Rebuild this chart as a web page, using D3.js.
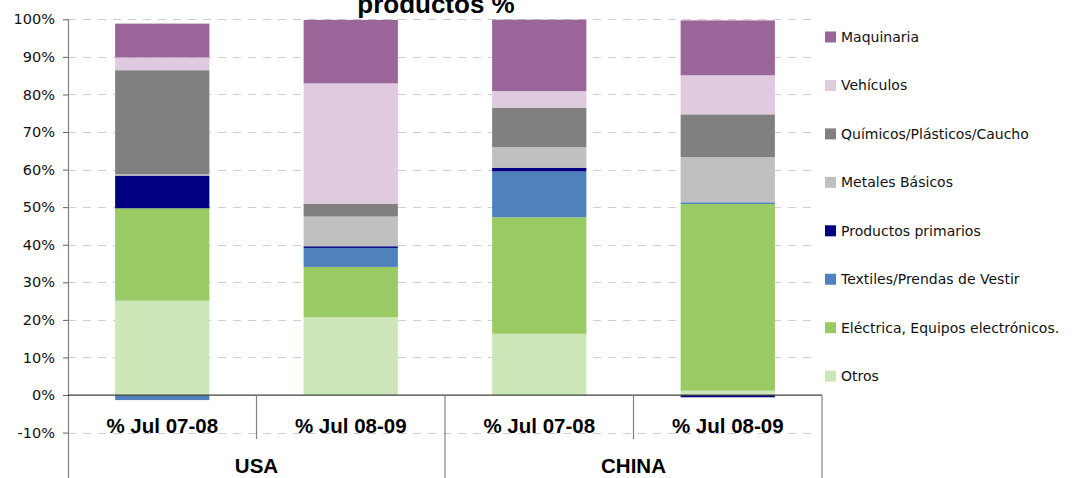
<!DOCTYPE html>
<html>
<head>
<meta charset="utf-8">
<script src="https://cdn.jsdelivr.net/npm/d3@7"></script>
<style>
  html, body { margin: 0; padding: 0; background: #ffffff; }
  svg { display: block; }
</style>
</head>
<body>
<svg id="chart" width="1074" height="478"></svg>
<script>
// Categories: period per bar and the country each bar belongs to
const periods = ["% Jul 07-08", "% Jul 08-09", "% Jul 07-08", "% Jul 08-09"];
const countries = ["USA", "USA", "CHINA", "CHINA"];

// Share of imports by product group (%), one value per bar
const otros      = [25.1, 20.7, 16.3, 1.15];
const electrica  = [24.6, 13.4, 31.0, 49.7];
const textiles   = [-1.35, 5.05, 12.2, 0.45];
const primarios  = [8.7, 0.45, 1.0, -0.6];
const metales    = [0.35, 7.9, 5.5, 12.0];
const quimicos   = [27.7, 3.45, 10.5, 11.4];
const vehiculos  = [3.4, 32.0, 4.4, 10.4];
const maquinaria = [9.0, 16.9, 19.0, 14.6];

// Series in stacking order (bottom to top)
const seriesKeys = ["otros", "electrica", "textiles", "primarios", "metales", "quimicos", "vehiculos", "maquinaria"];
const seriesValues = [otros, electrica, textiles, primarios, metales, quimicos, vehiculos, maquinaria];
const seriesLabels = [
  "Otros",
  "Eléctrica, Equipos electrónicos.",
  "Textiles/Prendas de Vestir",
  "Productos primarios",
  "Metales Básicos",
  "Químicos/Plásticos/Caucho",
  "Vehículos",
  "Maquinaria"
];
const seriesColors = ["#cde6b7", "#99ca64", "#4f81bd", "#000080", "#c0c0c0", "#808080", "#dfcadf", "#9a6598"];

// Value axis ticks (%)
const yTicks = [-10, 0, 10, 20, 30, 40, 50, 60, 70, 80, 90, 100];
const yDomain = [-10, 100];

const titleText = "productos %";

// ---- layout ----
const W = 1074, H = 478;
const plotLeft = 68, plotRight = 822, plotTop = 19.3, plotBottom = 432.6;
const BODY = "'DejaVu Sans', Verdana, sans-serif";
const BOLD = "'Liberation Sans', Arial, sans-serif";

const svg = d3.select("#chart");

const y = d3.scaleLinear().domain(yDomain).range([plotBottom, plotTop]);
const x = d3.scaleBand().domain(d3.range(periods.length)).range([plotLeft, plotRight]).padding(0);
const barW = x.bandwidth() * 0.5;

// Build rows for the stack layout
const rows = periods.map((p, i) => {
  const r = { idx: i };
  seriesKeys.forEach((k, s) => { r[k] = seriesValues[s][i]; });
  return r;
});
const stacked = d3.stack().keys(seriesKeys).offset(d3.stackOffsetDiverging)(rows);

// Gridlines (dashed), skipping the zero line
svg.append("g")
  .selectAll("line")
  .data(yTicks.filter(t => t !== 0))
  .join("line")
  .attr("x1", plotLeft).attr("x2", plotRight - 4)
  .attr("y1", d => Math.round(y(d)) + 0.5).attr("y2", d => Math.round(y(d)) + 0.5)
  .attr("stroke", "#cfcfcf").attr("stroke-width", 1.2)
  .attr("stroke-dasharray", "8,7");

// Stacked bars
svg.append("g")
  .selectAll("g")
  .data(stacked)
  .join("g")
  .attr("fill", (d, i) => seriesColors[i])
  .selectAll("rect")
  .data(d => d)
  .join("rect")
  .attr("x", d => x(d.data.idx) + (x.bandwidth() - barW) / 2)
  .attr("width", barW)
  .attr("y", d => y(Math.max(d[0], d[1])))
  .attr("height", d => Math.abs(y(d[0]) - y(d[1])));

// Value axis
const yAxis = d3.axisLeft(y).tickValues(yTicks).tickFormat(d => d + "%").tickSize(5).tickPadding(8);
const ya = svg.append("g").attr("transform", `translate(${plotLeft},0)`).call(yAxis);
ya.select(".domain").remove();
ya.selectAll(".tick line").attr("stroke", "#606060");
ya.selectAll(".tick text").attr("font-family", BODY).attr("font-size", 14.5).attr("fill", "#111");
svg.append("line")
  .attr("x1", plotLeft + 0.5).attr("x2", plotLeft + 0.5)
  .attr("y1", plotTop).attr("y2", H)
  .attr("stroke", "#808080").attr("stroke-width", 1.2);

// Zero line / category axis
svg.append("line")
  .attr("x1", plotLeft).attr("x2", plotRight)
  .attr("y1", y(0)).attr("y2", y(0))
  .attr("stroke", "#404040").attr("stroke-width", 1.2);

// Category separators: short between periods, full height between countries
const catAxis = svg.append("g");
periods.forEach((p, i) => {
  if (i === 0) return;
  const sameGroup = countries[i] === countries[i - 1];
  catAxis.append("line")
    .attr("x1", x(i)).attr("x2", x(i))
    .attr("y1", y(0)).attr("y2", sameGroup ? 439 : H)
    .attr("stroke", "#808080").attr("stroke-width", 1.2);
});
catAxis.append("line")
  .attr("x1", plotRight).attr("x2", plotRight)
  .attr("y1", y(0)).attr("y2", H)
  .attr("stroke", "#808080").attr("stroke-width", 1.2);

// Period labels
catAxis.selectAll("text.period")
  .data(periods)
  .join("text")
  .attr("class", "period")
  .attr("x", (d, i) => x(i) + x.bandwidth() / 2)
  .attr("y", 433)
  .attr("text-anchor", "middle")
  .attr("font-family", BOLD).attr("font-weight", "bold").attr("font-size", 20.5)
  .attr("fill", "#000")
  .text(d => d);

// Country labels, centred under their bars
const groups = d3.groups(periods.map((p, i) => i), i => countries[i]);
catAxis.selectAll("text.country")
  .data(groups)
  .join("text")
  .attr("class", "country")
  .attr("x", ([, idx]) => (x(idx[0]) + x(idx[idx.length - 1]) + x.bandwidth()) / 2)
  .attr("y", 473)
  .attr("text-anchor", "middle")
  .attr("font-family", BOLD).attr("font-weight", "bold").attr("font-size", 20.5)
  .attr("fill", "#000")
  .text(([name]) => name);

// Title (second line of a wrapped heading, clipped by the top edge)
svg.append("text")
  .attr("x", 436).attr("y", 13)
  .attr("text-anchor", "middle")
  .attr("font-family", BOLD).attr("font-weight", "bold").attr("font-size", 26)
  .attr("fill", "#000")
  .text(titleText);

// Legend, top entry = top of the stack
const legendOrder = d3.range(seriesKeys.length).reverse();
const legend = svg.append("g").attr("transform", "translate(825,37)");
const item = legend.selectAll("g")
  .data(legendOrder)
  .join("g")
  .attr("transform", (d, i) => `translate(0,${i * 48.45})`);
item.append("rect")
  .attr("x", 0).attr("y", -5.5).attr("width", 11).attr("height", 11)
  .attr("fill", d => seriesColors[d]);
item.append("text")
  .attr("x", 16).attr("y", 0).attr("dy", "0.35em")
  .attr("font-family", BODY).attr("font-size", 14)
  .attr("fill", "#111")
  .text(d => seriesLabels[d]);
</script>
</body>
</html>
